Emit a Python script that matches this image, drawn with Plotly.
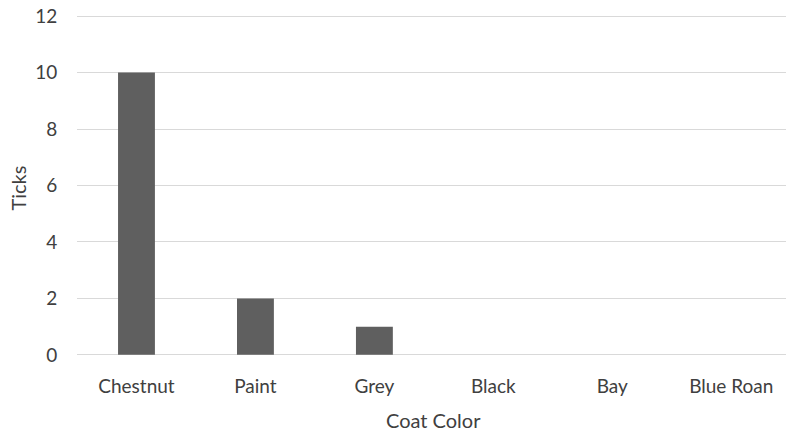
import plotly.graph_objects as go

categories = ["Chestnut", "Paint", "Grey", "Black", "Bay", "Blue Roan"]
ticks = [10, 2, 1, 0, 0, 0]
y_ticks = [0, 2, 4, 6, 8, 10, 12]

FONT = "Lato"
TXT = "#404040"

fig = go.Figure(go.Bar(
    x=categories, y=ticks,
    marker=dict(color="#5f5f5f", line=dict(width=0)),
    width=0.31,
))

fig.update_layout(
    width=786, height=433,
    margin=dict(l=77, r=0, t=15, b=77),
    paper_bgcolor="white", plot_bgcolor="white",
    font=dict(family=FONT, size=19, color=TXT),
    showlegend=False,
    xaxis=dict(
        range=[-0.5, 5.46], showgrid=False, zeroline=False, showline=False,
        ticks="", ticklabelstandoff=17, tickfont=dict(size=19, color=TXT),
    ),
    yaxis=dict(
        range=[-0.04, 12.04], tickvals=y_ticks, showgrid=True, gridcolor="#d9d9d9",
        gridwidth=1.3, zeroline=False, showline=False,
        ticks="outside", ticklen=15, tickcolor="white",
        tickfont=dict(size=19, color=TXT),
    ),
    annotations=[
        dict(
            text="Coat Color", xref="x", yref="paper", x=2.5, y=0,
            yshift=-64, showarrow=False, font=dict(size=20, color=TXT),
            xanchor="center", yanchor="middle",
        ),
        dict(
            text="Ticks", xref="paper", yref="paper", x=0, y=0.5,
            xshift=-60, yshift=-3, textangle=-90, showarrow=False,
            font=dict(size=20, color=TXT), xanchor="center", yanchor="middle",
        ),
    ],
)
fig.write_html("out.html")
